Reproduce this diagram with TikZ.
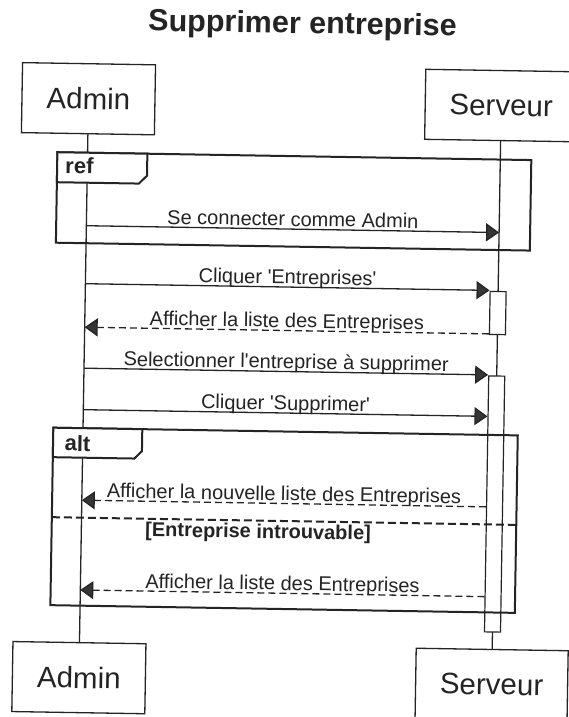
\documentclass[tikz,border=0pt]{standalone}
\usepackage{fontspec}
\setmainfont{Liberation Sans}
\usetikzlibrary{arrows.meta}

\definecolor{ink}{HTML}{242424}
\definecolor{headfill}{HTML}{363636}

\newcommand{\sq}{\textquotesingle}

\begin{document}
\begin{tikzpicture}[x=1pt,y=-1pt,
  every node/.style={transform shape, text=ink},
  actor/.style={draw=ink, line width=1.3pt, minimum height=70pt, inner sep=0pt,
    font=\fontsize{29.5}{34}\selectfont},
  lifeline/.style={draw=ink, line width=1.3pt},
  activation/.style={draw=ink, fill=white, line width=1.2pt, minimum width=16pt, inner sep=0pt},
  frame/.style={draw=ink, line width=2pt, line join=miter},
  sync/.style={draw=ink, line width=1.3pt, -{Triangle[length=13pt,width=18pt,fill=headfill]}},
  reply/.style={sync, dash pattern=on 7pt off 4pt},
  msglabel/.style={anchor=base, inner sep=0pt, yshift=3pt, font=\fontsize{20}{24}\selectfont},
  framelabel/.style={anchor=base west, inner sep=0pt, font=\bfseries\fontsize{22}{26}\selectfont},
  guard/.style={anchor=base west, inner sep=0pt, font=\bfseries\fontsize{20}{24}\selectfont},
  titletext/.style={anchor=base, inner sep=0pt, font=\bfseries\fontsize{30.5}{35}\selectfont}]

\useasboundingbox[fill=white] (0,0) rectangle (568,717);

\begin{scope}[rotate around={-0.95:(284,358)}]

% title
\node[titletext] (title) at (297,33) {Supprimer entreprise};

% participants, top and bottom
\node[actor, minimum width=133pt] (adminTop) at (84.2,102) {Admin};
\node[actor, minimum width=152pt] (servTop)  at (497,102) {Serveur};
\node[actor, minimum width=133pt] (adminBot) at (84.2,681) {Admin};
\node[actor, minimum width=152pt] (servBot)  at (497,681) {Serveur};

% lifelines
\draw[lifeline] (adminTop.south) -- (adminBot.north);
\draw[lifeline] (servTop.south) -- (servBot.north);

% activation bars on the server
\node[activation, minimum height=43pt]  (act1) at (497,309.5) {};
\node[activation, minimum height=256pt] (act2) at (497,500.5) {};

% message anchors on the lifelines
\foreach \n/\yy in {1/229, 2/287, 3/330.5, 4/371.5, 5/413, 6/503.5, 7/593.3} {
  \coordinate (a\n) at (84.2,\yy);
  \coordinate (s\n) at (497,\yy);
}

% ref fragment
\draw[frame] (54,156) rectangle (528,246.5);
\filldraw[frame, fill=white] (54,156) -- (54,186) -- (136,186) -- (144,178) -- (144,156) -- cycle;
\node[framelabel] (refLabel) at (62,177) {ref};

% messages
\draw[sync] (a1) -- (s1) node[msglabel, pos=0.5] {Se connecter comme Admin};
\draw[sync] (a2) -- (a2 -| act1.west) node[msglabel, pos=0.5] {Cliquer \sq Entreprises\sq};
\draw[reply] (a3 -| act1.west) -- (a3) node[msglabel, pos=0.5] {Afficher la liste des Entreprises};
\draw[sync] (a4) -- (a4 -| act2.west) node[msglabel, pos=0.5] {Selectionner l\sq entreprise à supprimer};
\draw[sync] (a5) -- (a5 -| act2.west) node[msglabel, pos=0.5] {Cliquer \sq Supprimer\sq};

% alt fragment
\draw[frame] (54.5,431.5) rectangle (519,609);
\filldraw[frame, fill=white] (54.5,431.5) -- (54.5,461) -- (136,461) -- (143.5,453.5) -- (143.5,431.5) -- cycle;
\node[framelabel] (altLabel) at (66,454.5) {alt};
\draw[frame, dash pattern=on 8pt off 4pt] (54.5,521) -- (519,521);
\node[guard] (guardLabel) at (148,538.5) {[Entreprise introuvable]};

\draw[reply] (a6 -| act2.west) -- (a6) node[msglabel, pos=0.5] {Afficher la nouvelle liste des Entreprises};
\draw[reply] (a7 -| act2.west) -- (a7) node[msglabel, pos=0.5] {Afficher la liste des Entreprises};

\end{scope}
\end{tikzpicture}
\end{document}
